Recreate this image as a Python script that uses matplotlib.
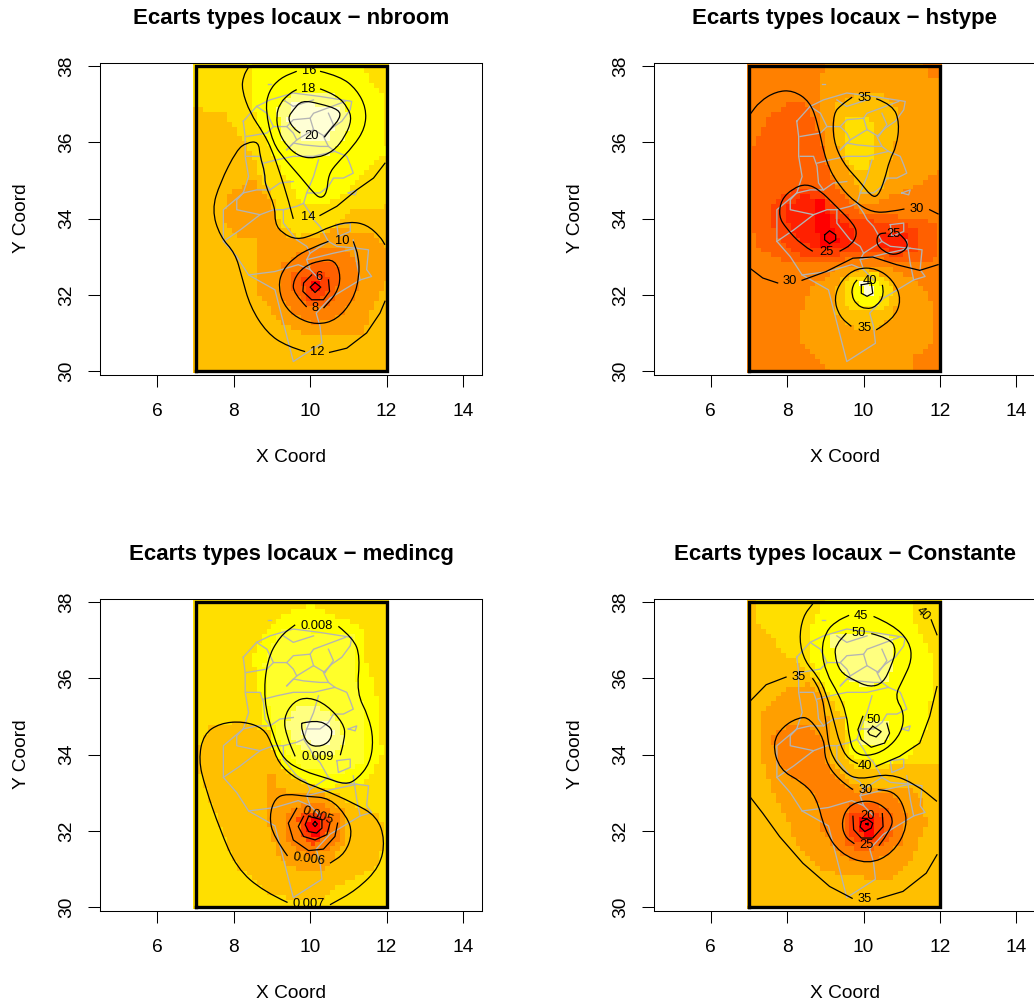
import numpy as np
import matplotlib
matplotlib.use('Agg')
import matplotlib.pyplot as plt
from matplotlib.colors import ListedColormap
from matplotlib.patches import PathPatch
from matplotlib.path import Path

plt.rcParams['font.family'] = ['Liberation Sans', 'DejaVu Sans']

# heat.colors(12) du R
heat_colors = ['#FF0000', '#FF2000', '#FF4000', '#FF6000', '#FF8000', '#FF9F00',
               '#FFBF00', '#FFDF00', '#FFFF00', '#FFFF2A', '#FFFF80', '#FFFFD5']

x_ticks = [6, 8, 10, 12, 14]
y_ticks = [30, 32, 34, 36, 38]

# contours de la Tunisie (lon, lat)
map_lines = [
    [(8.25, 36.55), (8.60, 36.94), (8.95, 37.11), (9.56, 37.29), (10.26, 37.20), (11.09, 37.07),
     (11.05, 36.85), (10.83, 36.55), (10.57, 36.37), (10.35, 36.15), (10.48, 35.89), (10.65, 35.76),
     (10.96, 35.63), (11.05, 35.41), (11.13, 35.19), (10.87, 35.06), (10.61, 35.06), (10.48, 34.84),
     (10.26, 34.67), (9.91, 34.67), (9.83, 34.40), (10.0, 34.14), (10.09, 33.97), (10.26, 33.79),
     (10.48, 33.40), (10.70, 33.27), (11.22, 33.22), (11.53, 33.18), (11.48, 32.66), (11.61, 32.48),
     (11.31, 32.39), (10.52, 31.91), (10.16, 31.52), (10.26, 31.17), (10.31, 30.73), (9.56, 30.25),
     (9.08, 32.13), (8.39, 32.52), (8.08, 33.0), (7.73, 33.40), (7.73, 34.23), (8.25, 34.67),
     (8.39, 35.10), (8.30, 35.63), (8.30, 36.15), (8.25, 36.55)],
    [(8.39, 32.52), (9.08, 32.61), (9.69, 32.79), (10.0, 32.66)],
    [(9.91, 32.92), (10.0, 32.66), (10.26, 32.39)],
    [(10.48, 33.40), (10.0, 33.09), (9.91, 32.92), (10.61, 33.09), (11.22, 33.22)],
    [(11.13, 33.44), (11.22, 32.83), (11.31, 32.39)],
    [(7.73, 33.40), (8.17, 33.70), (8.69, 34.10), (8.08, 34.23), (8.08, 34.49), (8.25, 34.67)],
    [(8.25, 34.67), (8.60, 34.75), (8.95, 34.75), (9.21, 34.93), (9.56, 34.97)],
    [(8.69, 34.10), (9.04, 34.23), (9.30, 34.23), (9.65, 34.32), (9.83, 34.40)],
    [(9.30, 34.23), (9.30, 33.88), (9.65, 33.44), (9.91, 33.27), (10.0, 33.09)],
    [(8.34, 35.63), (8.69, 35.63), (8.78, 35.37), (8.82, 34.93), (8.95, 34.75)],
    [(8.78, 35.45), (9.13, 35.54), (9.56, 35.63), (10.09, 35.63), (10.65, 35.76)],
    [(9.39, 35.80), (9.56, 35.98), (9.83, 35.93), (10.26, 35.89), (10.48, 35.89)],
    [(10.22, 35.54), (10.09, 35.10), (9.91, 34.67)],
    [(8.60, 36.94), (8.87, 36.76), (9.04, 36.41), (9.39, 36.41), (9.56, 36.24), (9.65, 36.06), (9.39, 35.80)],
    [(9.65, 36.06), (10.09, 36.33), (10.39, 36.15)],
    [(10.09, 36.33), (10.0, 36.63), (9.56, 36.59), (9.39, 36.41)],
    [(10.0, 36.63), (10.09, 36.76), (10.44, 36.89), (10.92, 37.07)],
    [(10.48, 36.76), (10.61, 36.46), (10.39, 36.15)],
    [(9.04, 36.41), (8.87, 36.24), (8.34, 36.15)],
    [(9.30, 37.11), (9.56, 36.94), (10.09, 37.11)],
    [(11.0, 34.67), (11.22, 34.75), (11.18, 34.62), (11.0, 34.67)],
    [(10.70, 33.84), (11.05, 33.88), (11.05, 33.66), (10.74, 33.53), (10.70, 33.84)],
    [(8.90, 37.53), (8.98, 37.53)],
]

# nbroom
nbroom_base = 6
nbroom_regions = [
    (7, [(7, 38), (12, 38), (12, 34.32), (11.05, 34.27), (10.52, 33.70), (9.65, 33.53), (9.21, 33.88),
         (9.04, 34.58), (8.69, 35.10), (8.43, 35.80), (8.08, 36.33), (7.82, 36.72), (7.21, 36.85), (7, 36.9)]),
    (8, [(8.34, 38), (11.44, 37.9), (11.75, 37.38), (11.96, 37.2), (12, 35.71), (11.48, 35.28), (10.96, 34.67),
         (10.26, 34.32), (9.74, 34.40), (9.48, 34.93), (9.13, 35.45), (8.87, 35.98), (8.60, 36.59), (8.43, 37.29),
         (8.52, 37.9)]),
    (10, [(9.13, 36.94), (9.56, 37.29), (10.61, 37.24), (11.05, 36.76), (10.96, 36.15), (10.44, 35.63),
          (9.74, 35.63), (9.30, 35.98)]),
    (11, [(9.56, 37.03), (10.70, 36.94), (10.79, 36.59), (10.44, 36.06), (9.83, 36.06), (9.39, 36.59)]),
    (5, [(8.43, 35.10), (8.69, 34.75), (9.0, 34.49), (9.13, 33.88), (9.39, 33.44), (10.09, 33.44), (10.61, 33.70),
         (11.57, 33.66), (12, 33.27), (12, 32.31), (11.66, 31.69), (11.40, 31.0), (10.09, 30.91), (9.21, 31.26),
         (8.60, 32.13), (8.56, 33.44), (8.08, 33.53), (7.69, 33.97), (7.86, 34.67), (8.25, 34.84)]),
    (4, [(9.30, 32.83), (9.91, 33.18), (10.70, 33.31), (11.27, 32.83), (11.27, 32.13), (10.87, 31.52),
         (10.17, 31.21), (9.56, 31.52), (9.21, 32.04)]),
    (3, [(9.56, 32.61), (10.09, 32.83), (10.70, 32.83), (10.83, 32.39), (10.48, 31.69), (9.91, 31.69), (9.56, 32.04)]),
    (2, [(9.78, 32.39), (10.09, 32.66), (10.44, 32.66), (10.52, 32.13), (10.26, 31.83), (9.91, 31.91)]),
    (0, [(9.97, 32.35), (10.26, 32.35), (10.30, 32.09), (10.04, 32.04)]),
]
nbroom_lines = [
    [(10.37, 36.13), (10.52, 36.33), (10.79, 36.63), (10.77, 36.85), (10.26, 37.01), (9.78, 37.10), (9.56, 36.85),
     (9.41, 36.63), (9.56, 36.37), (9.74, 36.24)],
    [(10.26, 37.40), (10.70, 37.24), (11.0, 36.89), (11.09, 36.59), (10.92, 36.15), (10.61, 35.76), (10.17, 35.58),
     (9.74, 35.61), (9.39, 35.89), (9.17, 36.28), (9.11, 36.68), (9.21, 37.03), (9.48, 37.29), (9.65, 37.38)],
    [(10.26, 37.86), (10.79, 37.73), (11.22, 37.38), (11.47, 36.89), (11.44, 36.37), (11.13, 35.89), (10.70, 35.45),
     (10.48, 35.15), (10.44, 34.67), (10.28, 34.52), (10.09, 34.67), (9.74, 35.10), (9.35, 35.54), (9.02, 35.98),
     (8.83, 36.85), (8.91, 37.33), (9.21, 37.68), (9.65, 37.86)],
    [(9.56, 33.99), (9.43, 34.49), (9.21, 35.19), (9.0, 35.80), (8.78, 36.24), (8.43, 36.76), (8.21, 37.38),
     (8.25, 37.73), (8.39, 37.97)],
    [(10.26, 34.08), (10.70, 34.32), (11.22, 34.75), (11.66, 35.06), (11.96, 35.45)],
    [(9.87, 30.51), (9.39, 30.65), (8.87, 31.0), (8.43, 31.69), (8.21, 32.48), (8.04, 33.09), (7.64, 33.53),
     (7.43, 34.23), (7.64, 34.93), (8.08, 35.80), (8.34, 35.99), (8.65, 36.02), (8.69, 35.63), (8.82, 35.19),
     (8.82, 34.88), (9.08, 34.32), (9.08, 33.88), (9.26, 33.62), (9.65, 33.44), (10.09, 33.57), (10.52, 33.79),
     (11.05, 33.92), (11.48, 33.84), (11.83, 33.53), (11.96, 33.31)],
    [(10.51, 30.49), (10.96, 30.60), (11.48, 31.0), (11.83, 31.52), (11.96, 31.83)],
    [(10.48, 33.40), (10.0, 33.22), (9.56, 32.96), (9.26, 32.61), (9.17, 32.22), (9.30, 31.74), (9.65, 31.39),
     (10.17, 31.21), (10.70, 31.34), (11.13, 31.87), (11.29, 32.48), (11.27, 33.01), (11.13, 33.40)],
    [(9.91, 31.68), (9.56, 32.04), (9.56, 32.39), (9.83, 32.74), (10.26, 32.90), (10.65, 32.92), (10.81, 32.48),
     (10.70, 32.04), (10.35, 31.65)],
    [(10.04, 32.52), (9.83, 32.31), (9.81, 32.09), (10.04, 31.87), (10.35, 31.87), (10.51, 32.09), (10.48, 32.39)],
    [(10.13, 32.32), (10.28, 32.20), (10.13, 32.06), (10.0, 32.20), (10.13, 32.32)],
]
nbroom_labels = [('16', 9.97, 37.86, 0), ('18', 9.94, 37.39, 0), ('20', 10.04, 36.17, 0), ('14', 9.94, 34.03, 0),
                 ('12', 10.19, 30.49, 0), ('10', 10.83, 33.40, 0), ('6', 10.24, 32.46, 0), ('8', 10.13, 31.65, 0)]

# hstype
hstype_base = 4
hstype_regions = [
    (5, [(8.94, 38), (11.60, 38), (11.64, 37.68), (12, 37.68), (12, 35.28), (11.64, 35.02), (11.12, 34.75),
         (10.42, 34.45), (9.81, 34.40), (9.28, 34.93), (9.02, 35.63), (8.85, 36.85)]),
    (5, [(8.67, 32.22), (9.37, 32.74), (10.59, 32.74), (11.38, 32.39), (11.82, 31.78), (11.82, 30.73), (11.29, 30.38),
         (11.29, 30), (9.11, 30), (8.41, 30.73), (8.41, 31.61)]),
    (3, [(7.03, 35.71), (7.54, 36.68), (8.06, 37.07), (8.59, 36.94), (8.85, 36.15), (9.02, 35.54), (9.28, 34.75),
         (9.98, 34.14), (11.12, 34.05), (11.64, 33.97), (11.95, 33.79), (11.95, 33.0), (11.73, 32.83), (11.03, 32.83),
         (9.98, 33.0), (8.94, 32.83), (8.06, 32.83), (7.19, 33.27), (7.03, 34.23), (7.02, 34.93)]),
    (2, [(7.80, 34.58), (8.32, 34.84), (8.85, 34.75), (9.28, 34.23), (9.81, 33.97), (11.12, 33.88), (11.47, 33.62),
         (11.38, 33.18), (10.86, 33.0), (9.90, 33.18), (8.94, 32.92), (8.15, 33.09), (7.63, 33.70), (7.54, 34.32)]),
    (1, [(7.93, 34.32), (8.50, 34.62), (9.02, 34.32), (9.37, 33.97), (9.81, 33.62), (9.63, 33.27), (8.85, 33.18),
         (8.32, 33.44), (7.98, 33.88)]),
    (1, [(10.38, 33.62), (11.12, 33.66), (11.16, 33.27), (10.86, 33.09), (10.38, 33.27)]),
    (0, [(8.67, 34.49), (8.94, 34.49), (9.11, 33.88), (9.37, 33.35), (8.85, 33.27), (8.76, 33.88)]),
    (6, [(9.28, 37.03), (9.90, 37.29), (10.42, 37.29), (10.90, 36.94), (10.90, 36.33), (10.77, 35.71), (10.51, 34.75),
         (9.98, 34.58), (9.55, 35.37), (9.20, 36.06), (9.20, 36.76)]),
    (6, [(9.20, 31.96), (9.46, 32.48), (9.98, 32.74), (10.59, 32.48), (10.94, 31.96), (10.77, 31.43), (10.24, 31.08),
         (9.63, 31.17), (9.28, 31.52)]),
    (7, [(9.55, 36.68), (9.98, 36.72), (10.24, 36.55), (10.33, 36.33), (10.24, 35.80), (10.16, 35.28), (9.81, 35.28),
         (9.46, 35.71), (9.50, 36.33)]),
    (7, [(9.42, 32.13), (9.68, 32.48), (10.42, 32.57), (10.77, 32.13), (10.59, 31.69), (10.16, 31.52), (9.63, 31.61)]),
    (8, [(9.68, 32.13), (9.90, 32.39), (10.33, 32.39), (10.55, 32.13), (10.38, 31.78), (9.94, 31.69)]),
    (11, [(9.94, 32.31), (10.20, 32.31), (10.24, 32.0), (9.98, 31.96)]),
]
hstype_lines = [
    [(10.33, 37.14), (10.77, 36.98), (10.94, 36.50), (10.86, 35.89), (10.68, 35.54), (10.55, 35.02), (10.38, 34.58),
     (10.20, 34.58), (9.90, 34.97), (9.46, 35.45), (9.20, 36.06), (9.21, 36.76), (9.42, 36.98), (9.70, 37.18)],
    [(11.07, 34.25), (10.68, 34.17), (10.24, 34.16), (9.81, 34.40), (9.37, 34.84), (9.02, 35.45), (8.80, 36.50),
     (8.59, 37.07), (8.15, 37.36), (7.71, 37.33), (7.28, 37.07), (7.02, 36.72)],
    [(11.73, 34.23), (11.95, 34.12)],
    [(8.67, 33.14), (8.37, 33.31), (7.97, 33.75), (7.78, 34.05), (7.84, 34.49), (8.15, 34.79), (8.50, 34.91),
     (8.85, 34.75), (9.28, 34.32), (9.76, 33.84), (9.83, 33.57), (9.68, 33.31), (9.37, 33.14)],
    [(8.98, 33.57), (9.11, 33.68), (9.27, 33.57), (9.27, 33.44), (9.11, 33.34), (8.98, 33.44), (8.98, 33.57)],
    [(10.94, 33.59), (11.16, 33.40), (11.12, 33.18), (10.81, 33.03), (10.51, 33.14), (10.33, 33.35), (10.38, 33.60),
     (10.59, 33.62)],
    [(7.75, 32.31), (7.36, 32.44), (7.02, 32.70)],
    [(8.39, 32.38), (9.02, 32.61), (9.72, 32.96), (10.24, 32.99), (10.86, 32.79), (11.47, 32.64), (11.95, 32.79)],
    [(10.33, 31.08), (10.77, 31.34), (11.0, 31.87), (10.77, 32.39), (10.33, 32.70), (9.81, 32.70), (9.42, 32.39),
     (9.22, 31.91), (9.37, 31.43), (9.68, 31.17)],
    [(10.49, 32.26), (10.55, 32.0), (10.33, 31.69), (10.07, 31.62), (9.81, 31.74), (9.68, 32.0), (9.72, 32.26),
     (9.83, 32.39)],
    [(9.94, 32.26), (10.20, 32.31), (10.24, 32.04), (10.09, 31.96), (9.94, 32.04), (9.94, 32.26)],
]
hstype_labels = [('35', 10.03, 37.16, 0), ('30', 11.40, 34.25, 0), ('25', 9.02, 33.12, 0), ('25', 10.77, 33.59, 0),
                 ('30', 8.06, 32.35, 0), ('35', 10.03, 31.13, 0), ('40', 10.16, 32.35, 0)]

# medincg
medincg_base = 7
medincg_regions = [
    (8, [(9.30, 37.66), (9.96, 37.88), (10.17, 37.88), (10.70, 37.62), (11.13, 37.45), (11.44, 37.18), (11.44, 36.57),
         (11.70, 35.78), (11.83, 34.82), (11.88, 34.04), (11.57, 33.34), (10.61, 33.16), (10.09, 33.16), (9.65, 33.42),
         (9.04, 33.86), (8.87, 34.47), (8.69, 35.26), (8.65, 36.05), (8.43, 36.48), (8.69, 37.01), (9.04, 37.45)]),
    (9, [(9.21, 37.27), (11.13, 37.18), (11.22, 35.87), (11.48, 35.0), (11.40, 33.77), (10.79, 33.51), (9.91, 33.60),
         (9.30, 34.12), (8.95, 35.0), (8.78, 36.40)]),
    (10, [(9.48, 35.09), (9.74, 35.30), (10.26, 35.26), (10.79, 34.82), (10.87, 34.30), (10.70, 34.04), (10.09, 34.04),
          (9.65, 34.21), (9.39, 34.65)]),
    (11, [(9.91, 34.87), (10.44, 34.87), (10.61, 34.56), (10.44, 34.26), (10.09, 34.21), (9.78, 34.56)]),
    (6, [(7.08, 34.21), (7.38, 34.74), (8.25, 34.87), (8.95, 34.56), (9.13, 33.86), (9.65, 33.34), (10.17, 33.16),
         (10.61, 32.99), (11.22, 32.64), (11.83, 32.46), (11.96, 31.68), (11.75, 31.06), (10.87, 30.63), (10.26, 30.19),
         (9.04, 30.28), (8.08, 31.06), (7.47, 32.55), (7.12, 33.51)]),
    (5, [(8.82, 33.51), (9.17, 33.51), (9.17, 33.08), (9.91, 32.99), (10.35, 32.94), (10.87, 32.55), (10.96, 32.03),
         (10.87, 31.59), (10.26, 30.89), (9.56, 31.02), (9.13, 31.41), (8.91, 32.11), (8.91, 32.64)]),
    (4, [(9.48, 32.64), (10.35, 32.73), (10.79, 32.38), (10.79, 31.85), (10.44, 31.50), (9.91, 31.33), (9.39, 31.76),
         (9.30, 32.20)]),
    (2, [(9.69, 32.29), (9.83, 32.55), (10.35, 32.46), (10.52, 32.20), (10.44, 31.85), (10.09, 31.63), (9.78, 31.81)]),
    (0, [(9.96, 32.29), (10.26, 32.29), (10.31, 31.98), (10.09, 31.81), (9.91, 31.98)]),
]
medincg_lines = [
    [(10.74, 37.36), (11.13, 37.05), (11.31, 36.57), (11.22, 35.61), (11.53, 35.0), (11.66, 34.39), (11.57, 33.77),
     (11.22, 33.34), (10.92, 33.21), (10.44, 33.38), (9.83, 33.56), (9.30, 33.86), (9.04, 34.47), (8.78, 35.44),
     (8.87, 36.48), (9.21, 37.10), (9.61, 37.40)],
    [(10.79, 33.98), (10.93, 34.47), (10.87, 34.82), (10.44, 35.30), (9.96, 35.51), (9.56, 35.39), (9.30, 34.95),
     (9.39, 34.47), (9.61, 33.95)],
    [(9.78, 34.82), (10.17, 34.91), (10.52, 34.74), (10.59, 34.56), (10.48, 34.30), (10.17, 34.19), (9.91, 34.30),
     (9.78, 34.65), (9.78, 34.82)],
    [(9.41, 30.12), (8.78, 30.41), (8.08, 31.02), (7.64, 32.03), (7.25, 33.16), (7.08, 33.86), (7.21, 34.53),
     (7.64, 34.82), (8.25, 34.87), (8.78, 34.69), (8.99, 34.30), (9.17, 33.77), (9.65, 33.34), (10.35, 33.08),
     (11.13, 32.73), (11.75, 32.38), (11.96, 31.76), (11.83, 31.06), (11.22, 30.45), (10.52, 30.06)],
    [(9.41, 31.34), (9.04, 31.85), (8.93, 32.38), (9.08, 32.86), (9.39, 32.97), (9.91, 32.90), (10.52, 32.86),
     (10.96, 32.38), (11.11, 31.94), (10.92, 31.41), (10.52, 31.15)],
    [(9.65, 32.59), (9.43, 32.20), (9.56, 31.76), (9.96, 31.48), (10.35, 31.52), (10.65, 31.85), (10.72, 32.20)],
    [(9.83, 32.38), (9.69, 32.11), (9.83, 31.85), (10.13, 31.76), (10.44, 31.90), (10.52, 32.20)],
    [(9.96, 32.38), (9.87, 32.16), (9.96, 31.98), (10.17, 31.94), (10.31, 32.07), (10.31, 32.29), (9.96, 32.38)],
    [(10.13, 32.24), (10.19, 32.18), (10.13, 32.11), (10.07, 32.18), (10.13, 32.24)],
]
medincg_labels = [('0.008', 10.17, 37.38, 0), ('0.009', 10.19, 33.93, 0), ('0.007', 9.96, 30.09, 0),
                  ('0.006', 9.96, 31.24, -8), ('0.005', 10.20, 32.39, -20)]

# Constante
constante_base = 6
constante_regions = [
    (7, [(7.17, 38), (12, 38), (12, 33.69), (10.68, 33.69), (9.81, 33.60), (9.46, 33.95), (9.46, 35.0), (8.94, 35.70),
         (8.50, 36.22), (8.15, 36.48), (7.80, 36.75), (7.54, 37.18), (7.17, 37.53)]),
    (8, [(8.94, 38), (11.25, 38), (11.34, 37.45), (11.82, 36.57), (11.77, 35.70), (11.64, 34.65), (11.20, 33.95),
         (10.59, 33.77), (9.72, 33.86), (9.59, 34.47), (9.46, 35.35), (9.02, 35.70), (8.59, 36.57), (8.59, 37.27)]),
    (10, [(9.11, 37.18), (10.59, 37.18), (10.86, 36.83), (10.68, 35.96), (9.98, 35.78), (9.46, 36.05), (9.20, 36.66)]),
    (10, [(9.98, 34.91), (10.59, 34.91), (10.68, 34.47), (10.33, 34.21), (9.94, 34.30)]),
    (5, [(7.32, 35.09), (7.63, 35.35), (7.98, 35.70), (8.59, 35.87), (8.98, 35.44), (9.11, 34.56), (9.11, 33.86),
         (9.55, 33.34), (9.98, 33.16), (11.03, 33.16), (11.51, 32.90), (11.64, 32.20), (11.29, 31.33), (10.77, 30.72),
         (9.46, 30.80), (8.76, 31.06), (8.24, 31.68), (7.98, 32.38), (7.63, 32.99), (7.36, 33.77)]),
    (4, [(7.63, 34.56), (8.15, 34.78), (8.59, 34.74), (8.94, 34.39), (9.02, 33.77), (9.46, 33.16), (9.98, 32.99),
         (10.77, 32.99), (11.12, 32.46), (11.03, 31.68), (10.59, 31.33), (9.98, 31.15), (9.37, 31.33), (8.94, 31.94),
         (8.76, 32.90), (8.24, 33.34), (7.67, 33.86)]),
    (3, [(9.46, 32.20), (9.63, 32.73), (10.33, 32.77), (10.77, 32.38), (10.77, 31.94), (10.51, 31.59), (9.90, 31.46),
         (9.46, 31.68)]),
    (2, [(9.68, 32.46), (10.42, 32.51), (10.55, 32.11), (10.42, 31.76), (9.90, 31.68), (9.63, 31.94)]),
    (0, [(9.90, 32.38), (10.24, 32.38), (10.33, 32.11), (10.16, 31.81), (9.90, 31.94)]),
]
constante_lines = [
    [(10.26, 37.62), (10.77, 37.40), (11.20, 36.96), (11.27, 36.48), (11.03, 35.96), (10.81, 35.52), (11.07, 35.09),
     (10.99, 34.56), (10.59, 34.12), (10.11, 33.95), (9.76, 34.04), (9.63, 34.39), (9.55, 35.09), (9.33, 35.61),
     (9.02, 36.13), (8.89, 36.75), (9.02, 37.23), (9.28, 37.49), (9.62, 37.65)],
    [(10.20, 37.17), (10.68, 37.05), (10.86, 36.75), (10.72, 36.31), (10.51, 35.87), (10.16, 35.76), (9.72, 35.96),
     (9.37, 36.18), (9.24, 36.62), (9.28, 36.88), (9.55, 37.18)],
    [(10.61, 34.82), (10.68, 34.56), (10.55, 34.30), (10.20, 34.19), (9.94, 34.39), (9.85, 34.65), (9.98, 35.0)],
    [(10.24, 34.74), (10.46, 34.60), (10.33, 34.46), (10.16, 34.52), (10.11, 34.60), (10.24, 34.74)],
    [(9.85, 33.76), (9.59, 33.86), (9.37, 34.30), (9.24, 34.82), (9.02, 35.61), (8.80, 36.05), (8.46, 36.44),
     (8.31, 37.01), (8.41, 37.62), (8.67, 37.95)],
    [(10.33, 33.69), (10.94, 33.95), (11.47, 34.30), (11.73, 35.0), (11.92, 35.78)],
    [(11.77, 37.53), (11.92, 37.14)],
    [(7.97, 36.03), (7.45, 35.83), (7.02, 35.39)],
    [(8.66, 36.0), (8.89, 35.70), (9.02, 34.82), (9.11, 34.04), (9.50, 33.51), (9.90, 33.34), (10.68, 33.51),
     (11.38, 33.21), (11.92, 32.77)],
    [(9.72, 33.08), (9.33, 33.34), (8.98, 33.86), (8.98, 34.39), (8.59, 34.95), (8.32, 34.98), (7.89, 34.74),
     (7.61, 34.30), (7.80, 33.60), (8.37, 33.29), (8.76, 32.90), (8.98, 32.03), (9.37, 31.41), (10.11, 31.11),
     (10.77, 31.41), (11.16, 32.11), (11.03, 32.73), (10.77, 33.03), (10.37, 33.08)],
    [(10.40, 31.61), (10.72, 32.03), (10.77, 32.38), (10.42, 32.73), (9.98, 32.80), (9.59, 32.64), (9.42, 32.24),
     (9.50, 31.85), (9.76, 31.66)],
    [(9.72, 32.38), (9.74, 32.03), (9.94, 31.81), (10.24, 31.81), (10.51, 32.11), (10.49, 32.45)],
    [(9.94, 32.24), (10.09, 32.31), (10.24, 32.20), (10.20, 32.07), (10.03, 31.98), (9.91, 32.10), (9.94, 32.24)],
    [(10.06, 32.18), (10.12, 32.20), (10.12, 32.15), (10.06, 32.18)],
    [(9.70, 30.23), (9.11, 30.54), (8.41, 31.15), (7.80, 31.85), (7.36, 32.46), (7.02, 32.90)],
    [(10.36, 30.21), (11.03, 30.41), (11.64, 30.89), (11.92, 31.37)],
]
constante_labels = [('45', 9.94, 37.64, 0), ('50', 9.87, 37.18, 0), ('50', 10.27, 34.91, 0), ('40', 10.03, 33.69, 0),
                    ('40', 11.55, 37.69, -45), ('35', 8.31, 36.03, 0), ('30', 10.05, 33.08, 0), ('25', 10.07, 31.62, 0),
                    ('20', 10.11, 32.39, 0), ('35', 10.03, 30.21, 0)]


def raster_cells(base, regions):
    # chaque region est remplie dans l'ordre, sur une grille de cellules comme image() du R
    x_edges = np.linspace(6.94, 12.06, 41)
    y_edges = np.linspace(29.94, 38.06, 65)
    xc = (x_edges[:-1] + x_edges[1:]) / 2
    yc = (y_edges[:-1] + y_edges[1:]) / 2
    xx, yy = np.meshgrid(xc, yc)
    pts = np.column_stack([xx.ravel(), yy.ravel()])
    cells = np.full(xx.shape, base)
    for level, poly in regions:
        inside = Path(poly + [poly[0]]).contains_points(pts).reshape(xx.shape)
        cells[inside] = level
    return x_edges, y_edges, cells


def curve_path(line):
    # courbes de Bezier passant par les milieux, les points lus servent de points de controle
    verts = [line[0]]
    codes = [Path.MOVETO]
    for a, b in zip(line[1:-1], line[2:]):
        verts += [a, ((a[0] + b[0]) / 2, (a[1] + b[1]) / 2)]
        codes += [Path.CURVE3, Path.CURVE3]
    verts.append(line[-1])
    codes.append(Path.LINETO)
    return Path(verts, codes)


def draw_panel(left, top, name, base, regions, lines, labels):
    W, H = 1034.0, 1008.0
    ax = fig.add_axes([left / W, 1 - (top + 312) / H, 382 / W, 312 / H])
    x_edges, y_edges, cells = raster_cells(base, regions)
    ax.pcolormesh(x_edges, y_edges, cells, cmap=ListedColormap(heat_colors), vmin=-0.5, vmax=11.5, zorder=1)
    for line in map_lines:
        ax.plot([p[0] for p in line], [p[1] for p in line], color='#B4B4B4', lw=0.95, zorder=2)
    for line in lines:
        if len(line) >= 8:
            ax.add_patch(PathPatch(curve_path(line), fill=False, edgecolor='black', lw=0.9, zorder=3))
        else:
            ax.plot([p[0] for p in line], [p[1] for p in line], color='black', lw=0.9, zorder=3)
    for txt, x, y, rot in labels:
        ax.text(x, y, txt, fontsize=9.3, ha='center', va='center', rotation=rot, zorder=4)
    ax.plot([7, 12, 12, 7, 7], [30, 30, 38, 38, 30], color='black', lw=2.4, zorder=5, solid_joinstyle='miter')
    ax.set_xlim(4.5, 14.5)
    ax.set_ylim(29.91, 38.09)
    ax.set_xticks(x_ticks)
    ax.set_yticks(y_ticks)
    ax.tick_params(length=8.5, width=0.75, labelsize=13.8)
    ax.tick_params(axis='x', pad=11.8)
    ax.tick_params(axis='y', pad=9)
    for lab in ax.get_yticklabels():
        lab.set_rotation(90)
        lab.set_va('center')
    for sp in ax.spines.values():
        sp.set_linewidth(0.75)
    ax.set_xlabel('X Coord', fontsize=13.8, labelpad=21)
    ax.set_ylabel('Y Coord', fontsize=13.8, labelpad=20.5)
    ax.set_title('Ecarts types locaux \u2212 ' + name, fontsize=16, fontweight='bold', pad=27.5)


fig = plt.figure(figsize=(10.34, 10.08), dpi=100)
draw_panel(100, 62.5, 'nbroom', nbroom_base, nbroom_regions, nbroom_lines, nbroom_labels)
draw_panel(653.5, 62.5, 'hstype', hstype_base, hstype_regions, hstype_lines, hstype_labels)
draw_panel(100, 598.5, 'medincg', medincg_base, medincg_regions, medincg_lines, medincg_labels)
draw_panel(653.5, 598.5, 'Constante', constante_base, constante_regions, constante_lines, constante_labels)
fig.savefig('out.png', dpi=100)
